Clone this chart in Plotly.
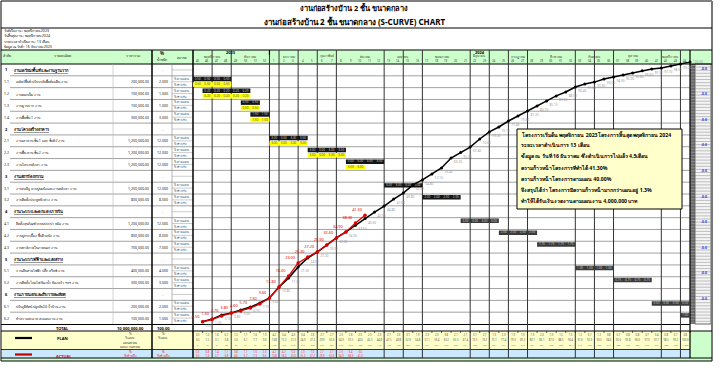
import plotly.graph_objects as go

W, H = 720, 366
FONT = "Noto Sans, DejaVu Sans, Liberation Sans, sans-serif"

# ---------------- data ----------------
title_main = "งานก่อสร้างบ้าน 2 ชั้น ขนาดกลาง"
title_sub = "งานก่อสร้างบ้าน 2 ชั้น ขนาดกลาง (S-CURVE) CHART"
info_lines = ["วันที่เริ่มงาน : พฤศจิกายน 2023", "วันสิ้นสุดงาน : พฤศจิกายน 2024",
              "ระยะเวลาดำเนินงาน : 13 เดือน", "ข้อมูล ณ วันที่ : 16 ธันวาคม 2023"]

years = ["2023", "2024"]
year_months = [2, 11]
months = ["พฤศจิกายน", "ธันวาคม", "มกราคม", "กุมภาพันธ์", "มีนาคม", "เมษายน", "พฤษภาคม",
          "มิถุนายน", "กรกฎาคม", "สิงหาคม", "กันยายน", "ตุลาคม", "พฤศจิกายน"]
week_nums = [45, 46, 47, 48, 49, 50, 51, 52, 1, 2, 3, 4, 5, 6, 7, 8, 9, 10, 11, 12, 13, 14,
             15, 16, 17, 18, 19, 20, 21, 22, 23, 24, 25, 26, 27, 28, 29, 30, 31, 32, 33, 34,
             35, 36, 37, 38, 39, 40, 41, 42, 43, 44]

row_codes = ["1", "1.1", "1.2", "1.3", "1.4", "2", "2.1", "2.2", "2.3", "3", "3.1", "3.2",
             "4", "4.1", "4.2", "4.3", "5", "5.1", "5.2", "6", "6.1", "6.2"]
row_head = [True, False, False, False, False, True, False, False, False, True, False, False,
            True, False, False, False, True, False, False, True, False, False]
row_names = ["งานเตรียมพื้นที่และงานฐานราก",
             "เคลียร์พื้นที่ ปรับระดับพื้นที่ถมดิน งาน", "งานตอกเข็ม งาน", "งานฐานราก งาน", "งานพื้นชั้น 1 งาน",
             "งานโครงสร้างอาคาร",
             "งานเสาคาน ชั้น 1 และ ชั้นที่ 2 งาน", "งานพื้น คาน ชั้น 2 งาน", "งานโครงหลังคา งาน",
             "งานสถาปัตยกรรม",
             "งานก่ออิฐ ฉาบปูนผนังและงานหลังคา งาน", "งานติดตั้งประตูหน้าต่าง งาน",
             "งานระบบและตกแต่งภายใน",
             "ติดตั้งสุขภัณฑ์ระบบประปา หม้อ งาน", "งานปูกระเบื้อง พื้นผิวผนัง งาน", "งานทาสีภายในภายนอก งาน",
             "งานระบบไฟฟ้าและแสงสว่าง",
             "งานเดินสายไฟฟ้า ปลั๊ก สวิตช์ งาน", "งานติดตั้งโคมไฟ ห้องน้ำ ห้องครัว ฯลฯ งาน",
             "งานภายนอกและเก็บรายละเอียด",
             "ปรับภูมิทัศน์ ปลูกต้นไม้ รั้วบ้าน งาน", "ทำความสะอาด ส่งมอบงาน งาน"]
row_price = [None, 200000, 100000, 100000, 300000, None, 1200000, 1200000, 1200000, None,
             1200000, 800000, None, 1200000, 800000, 700000, None, 400000, 300000, None,
             200000, 100000]
row_weight = [None, 2.0, 1.0, 1.0, 3.0, None, 12.0, 12.0, 12.0, None, 12.0, 8.0, None,
              12.0, 8.0, 7.0, None, 4.0, 3.0, None, 2.0, 1.0]
plan_start = [None, 0, 1, 5, 6, None, 8, 12, 16, None, 20, 24, None, 28, 32, 36, None, 40, 44,
              None, 48, 51]
plan_len = [None, 4, 5, 2, 2, None, 4, 4, 4, None, 4, 4, None, 4, 4, 4, None, 4, 4, None, 4, 1]
act_start = [None, 0, 1, 5, 6, None, 8, 12, 16, None, None, None, None, None, None, None, None,
             None, None, None, None, None]
act_len = [None, 4, 5, 2, 2, None, 4, 4, 2, None, None, None, None, None, None, None, None,
           None, None, None, None, None]

plan_cum = [0.5, 1.5, 3.1, 3.8, 5.0, 6.1, 7.7, 9.6, 13.8, 17.2,
            21.5, 24.9, 27.2, 29.9, 32.6, 34.9, 37.5, 40.0, 42.5, 44.8,
            47.5, 49.8, 52.9, 54.8, 57.1, 59.4, 63.2, 65.3, 67.4, 70.5,
            73.2, 75.1, 77.4, 79.3, 81.2, 83.1, 85.1, 87.0, 88.5, 90.4,
            91.6, 92.3, 93.5, 94.3, 95.0, 95.8, 96.6, 97.3, 97.7, 98.5,
            99.2, 100.0]
act_cum = [0.5, 1.3, 2.7, 3.8, 4.6, 5.7, 7.3, 9.6, 13.8, 18.0, 23.0, 25.3, 27.2, 29.9,
           32.6, 34.9, 38.3, 41.3]
week_index = list(range(1, 53))

total_price = "10,000,000.00"
total_weight = "100.00"

note_lines = ["โครงการเริ่มต้น พฤศจิกายน 2023โครงการสิ้นสุด พฤศจิกายน 2024",
              "ระยะเวลาดำเนินการ 13 เดือน",
              "ข้อมูล ณ วันที่ 16 ธันวาคม ซึ่งดำเนินการไปแล้ว 4.5เดือน",
              "ความก้าวหน้าโครงการที่ทำได้ 41.30%",
              "ความก้าวหน้าโครงการตามแผน 40.00%",
              "จึงสรุปได้ว่า โครงการมีความก้าวหน้ามากกว่าแผนอยู่ 1.3%",
              "ทำให้ได้รับเงินงวดงานตามแผนงาน 4,000,000 บาท"]

# ---------------- geometry helpers ----------------
X0, X1 = 193, 690          # timeline pixel extent
ROW_TOP, ROW_BOT = 64, 324  # body rows
NROW = len(row_codes)
RH = (ROW_BOT - ROW_TOP) / NROW
WPX = (X1 - X0) / 52


def px(x):
    return x / W


def py(y):
    return 1 - y / H


def wx(w):
    return X0 + w * WPX


shapes = []
annos = []


def line(x0, y0, x1, y1, color="#000", width=1, layer="below"):
    shapes.append(dict(type="line", xref="paper", yref="paper", x0=px(x0), x1=px(x1),
                       y0=py(y0), y1=py(y1), line=dict(color=color, width=width), layer=layer))


def rect(x0, y0, x1, y1, fill, lc=None, lw=0, layer="below"):
    shapes.append(dict(type="rect", xref="paper", yref="paper", x0=px(x0), x1=px(x1),
                       y0=py(y0), y1=py(y1), fillcolor=fill,
                       line=dict(color=lc or fill, width=lw), layer=layer))


def txt(x, y, s, size=4, color="#222", anchor="left", bold=False):
    if bold:
        s = "<b>" + s + "</b>"
    annos.append(dict(x=px(x), y=py(y), xref="paper", yref="paper", text=s, showarrow=False,
                      xanchor=anchor, yanchor="middle", borderpad=0,
                      font=dict(size=size, color=color, family=FONT)))


# ---------------- background blocks ----------------
rect(2, 50, 711, 64, "#ccffcc")                  # header
rect(2, 331, 690, 349.5, "#ffffcc")              # plan row
rect(2, 349.5, 690, 358, "#cce8ff")              # actual row
rect(690, 331, 711, 358, "#ccffcc")
rect(2, 358, 711, 361, "#ccffcc")
rect(690, 64, 695, 324, "#6a6a6a")               # right side strip
rect(695, 64, 711, 324, "#f4f4f4", "#444", 0.8)
yy = 64
while yy < 324:
    line(695, yy, 711, yy, "#9a9a9a", 0.6)
    line(690, yy + 1.5, 695, yy + 1.5, "#b0b0b0", 0.5)
    yy += 3.1

# frame and main lines
line(1, 1, 712, 1, "#000", 1)
line(1, 1, 1, 361, "#000", 1)
line(712, 1, 712, 361, "#777", 2)
line(1, 28, 712, 28, "#000", 1)
line(1, 50, 712, 50, "#000", 1)
line(1, 64, 712, 64, "#000", 1)
line(1, 361, 712, 361, "#000", 1)
line(1, 324.5, 690, 324.5, "#000", 1)
line(1, 331, 712, 331, "#000", 1)
line(1, 349.5, 690, 349.5, "#000", 0.8)
line(1, 358, 712, 358, "#000", 1)

# row separators
for i in range(1, NROW):
    y = ROW_TOP + i * RH
    line(10, y, 690, y, "#8a8a8a", 0.8)
    line(172, y - RH / 2, 193, y - RH / 2, "#aaa", 0.6)
line(172, ROW_BOT - RH / 2, 193, ROW_BOT - RH / 2, "#aaa", 0.6)

# vertical table lines
line(152, 50, 152, 358, "#000", 1.5)
line(193, 50, 193, 358, "#000", 1.5)
line(690, 50, 690, 358, "#000", 1.2)
line(113, 64, 113, 324, "#bbb", 0.6)
line(172, 64, 172, 324, "#888", 0.6)
grid_weeks = [2, 4, 8, 9, 11, 13, 15, 20, 22, 24, 29, 31, 33, 35, 40, 42, 44, 49, 51]
for w in grid_weeks:
    line(wx(w), 50, wx(w), 358, "#333", 1)
line(wx(8), 50, wx(8), 55, "#000", 1.2)
for k in range(53):
    line(wx(k), 331, wx(k), 333, "#000", 0.6)

# ---------------- titles & info ----------------
txt(354, 7, title_main, 7.4, "#000", "center", True)
txt(355, 22, title_sub, 8, "#000", "center", True)
for k, s in enumerate(info_lines):
    txt(3, 31 + k * 5.2, s, 3.6, "#222")

# header texts
txt(7, 56, "ลำดับ", 3.5, "#222", "center")
txt(63, 56, "รายละเอียด", 3.5, "#222", "center")
txt(133, 56, "ราคารวม", 3.5, "#222", "center")
txt(162, 53, "%", 4.5, "#222", "center", True)
txt(162, 59, "น้ำหนัก", 3.5, "#222", "center")
txt(182, 57, "สถานะ", 3.5, "#222", "center")
m0 = 0
for ylab, nm in zip(years, year_months):
    txt((wx(m0 * 4) + wx((m0 + nm) * 4)) / 2, 52.5, ylab, 4, "#000", "center", True)
    m0 += nm
for m, name in enumerate(months):
    txt((wx(m * 4) + wx(m * 4 + 4)) / 2, 56.5, name, 3.2, "#333", "center")
for k, wn in enumerate(week_nums):
    txt(wx(k + 0.5), 61, str(wn), 2.8, "#333", "center")

# table body texts
for i in range(NROW):
    ytop = ROW_TOP + i * RH
    yc = ytop + RH / 2
    if row_head[i]:
        txt(6, yc, row_codes[i], 4, "#000", "center", True)
        txt(13, yc, "<span style='text-decoration:underline'>" + row_names[i] + "</span>",
            4, "#000", "left", True)
        txt(163, yc, "-", 4, "#444", "center")
    else:
        txt(6, yc, row_codes[i], 3.5, "#222", "center")
        txt(15, yc, row_names[i], 3.5, "#222", "left")
        txt(150, yc, f"{row_price[i]:,.2f}", 3.5, "#222", "right")
        txt(169, yc, f"{row_weight[i]:.3f}", 3.5, "#222", "right")
        txt(173, ytop + RH * 0.25, "% ตามแผน", 2.8, "#333", "left")
        txt(173, ytop + RH * 0.75, "% ทำจริง", 2.8, "#333", "left")

# right column blue labels
for k in range(10):
    txt(704, 68 + k * 25.6, "-0.0", 3.5, "#2233ee", "center", True)

# bottom rows
txt(62, 328, "TOTAL", 4, "#000", "center", True)
txt(130, 328, total_price, 4, "#000", "center", True)
txt(163, 328, total_weight, 4, "#000", "center", True)
line(15, 338, 32, 338, "#000", 2.2)
txt(62, 338, "PLAN", 4, "#000", "center", True)
txt(130, 333.5, "%", 3.2, "#333", "center")
txt(130, 338, "% แผน", 3.2, "#333", "center")
txt(130, 342.5, "แผนสะสม", 3.2, "#333", "center")
txt(130, 346.5, "แผนงานสะสม", 3.2, "#333", "center")
txt(163, 333.5, "%", 3.2, "#333", "center")
txt(163, 338, "% แผน", 3.2, "#333", "center")
line(15, 354.5, 32, 354.5, "#c00000", 2.2)
txt(64, 356, "ACTUAL", 4, "#e00000", "center", True)
txt(130, 352, "%", 3.2, "#e00000", "center")
txt(130, 356, "% ทำจริง", 3.2, "#e00000", "center")
txt(163, 352, "%", 3.2, "#e00000", "center")
txt(163, 356, "% ทำจริง", 3.2, "#e00000", "center")

# note box
rect(517, 129, 682, 209, "#ffffcc", "#000", 1, layer="above")
for k, s in enumerate(note_lines):
    txt(520, 134 + k * 11.2, s, 5.2, "#000", "left", True)

# ---------------- traces ----------------
fig = go.Figure()

dark_rows = set(range(0, 12))
bar_y, bar_base, bar_len, bar_col = [], [], [], []
lab_x, lab_y, lab_t = [], [], []
ybar_y, ybar_base, ybar_len = [], [], []
ylab_x, ylab_y, ylab_t = [], [], []
for i in range(NROW):
    if row_head[i]:
        continue
    per = row_weight[i] / plan_len[i]
    bar_y.append(i + 0.27)
    bar_base.append(plan_start[i])
    bar_len.append(plan_len[i])
    bar_col.append("#151515" if i in dark_rows else "#3b3b3b")
    for k in range(plan_len[i]):
        lab_x.append(plan_start[i] + k + 0.5)
        lab_y.append(i + 0.27)
        lab_t.append(f"{per:.2f}")
    if act_start[i] is not None:
        ybar_y.append(i + 0.73)
        ybar_base.append(act_start[i])
        ybar_len.append(act_len[i])
        for k in range(act_len[i]):
            ylab_x.append(act_start[i] + k + 0.5)
            ylab_y.append(i + 0.73)
            ylab_t.append(f"{per:.2f}")

fig.add_trace(go.Bar(y=bar_y, x=bar_len, base=bar_base, orientation="h", width=0.38,
                     marker=dict(color=bar_col, line=dict(width=0)), xaxis="x", yaxis="y",
                     hoverinfo="skip"))
fig.add_trace(go.Bar(y=ybar_y, x=ybar_len, base=ybar_base, orientation="h", width=0.38,
                     marker=dict(color="#ffff00", line=dict(width=0)), xaxis="x", yaxis="y",
                     hoverinfo="skip"))
fig.add_trace(go.Scatter(x=lab_x, y=lab_y, mode="text", text=lab_t,
                         textfont=dict(size=3, color="#c8c8c8", family=FONT),
                         xaxis="x", yaxis="y", hoverinfo="skip"))
fig.add_trace(go.Scatter(x=ylab_x, y=ylab_y, mode="text", text=ylab_t,
                         textfont=dict(size=3, color="#555", family=FONT),
                         xaxis="x", yaxis="y", hoverinfo="skip"))

# S-curves
plan_pos = ["bottom right"] * (len(plan_cum) - 1) + ["middle right"]
fig.add_trace(go.Scatter(x=week_index, y=plan_cum, mode="lines+markers+text",
                         line=dict(color="#000", width=1.5), marker=dict(size=3, color="#000"),
                         text=[f"{v:.2f}" for v in plan_cum], textposition=plan_pos,
                         textfont=dict(size=3.2, color="#9a9a9a", family=FONT),
                         cliponaxis=False, xaxis="x", yaxis="y2", hoverinfo="skip"))
fig.add_trace(go.Scatter(x=week_index[:len(act_cum)], y=act_cum, mode="lines+markers+text",
                         line=dict(color="#e00000", width=1.3), marker=dict(size=3.5, color="#e00000"),
                         text=[f"{v:.2f}" for v in act_cum], textposition="top left",
                         textfont=dict(size=3.8, color="#e00000", family=FONT),
                         cliponaxis=False, xaxis="x", yaxis="y2", hoverinfo="skip"))

# bottom per-week rows
plan_week = [plan_cum[0]] + [round(plan_cum[k] - plan_cum[k - 1], 2) for k in range(1, 52)]
bx = [k + 0.5 for k in range(52)]
fig.add_trace(go.Scatter(x=bx, y=[335] * 52, mode="text", text=[f"{v:.1f}" for v in plan_week],
                         textfont=dict(size=2.6, color="#555", family=FONT), xaxis="x", yaxis="y3",
                         hoverinfo="skip"))
fig.add_trace(go.Scatter(x=bx, y=[340] * 52, mode="text", text=[f"{v:.1f}" for v in plan_cum],
                         textfont=dict(size=2.6, color="#555", family=FONT), xaxis="x", yaxis="y3",
                         hoverinfo="skip"))
fig.add_trace(go.Scatter(x=bx, y=[345] * 52, mode="text",
                         text=[f"{v * 10:,.0f}" for v in plan_cum],
                         textfont=dict(size=2.4, color="#777", family=FONT), xaxis="x", yaxis="y3",
                         hoverinfo="skip"))
act_week = [act_cum[0]] + [round(act_cum[k] - act_cum[k - 1], 2) for k in range(1, len(act_cum))]
ax_ = bx[:len(act_cum)]
fig.add_trace(go.Scatter(x=ax_, y=[352.5] * len(act_cum), mode="text",
                         text=[f"{v:.1f}" for v in act_week],
                         textfont=dict(size=2.6, color="#ff3030", family=FONT), xaxis="x", yaxis="y3",
                         hoverinfo="skip"))
fig.add_trace(go.Scatter(x=ax_, y=[356] * len(act_cum), mode="text",
                         text=[f"{v:.1f}" for v in act_cum],
                         textfont=dict(size=2.6, color="#ff3030", family=FONT), xaxis="x", yaxis="y3",
                         hoverinfo="skip"))

ax_common = dict(visible=False, showgrid=False, zeroline=False, fixedrange=True)
fig.update_layout(
    width=W, height=H, margin=dict(l=0, r=0, t=0, b=0), autosize=False,
    paper_bgcolor="white", plot_bgcolor="rgba(0,0,0,0)", showlegend=False,
    barmode="overlay", font=dict(family=FONT),
    xaxis=dict(domain=[px(X0), px(X1)], range=[0, 52], anchor="y", **ax_common),
    yaxis=dict(domain=[py(ROW_BOT), py(ROW_TOP)], range=[NROW, 0], anchor="x", **ax_common),
    yaxis2=dict(domain=[py(323), py(62)], range=[0, 100], anchor="x", **ax_common),
    yaxis3=dict(domain=[py(358), py(331)], range=[358, 331], anchor="x", **ax_common),
    shapes=shapes, annotations=annos,
)
fig.write_html("out.html", config={"displayModeBar": False},
               post_script="document.body.style.margin='0';document.body.style.overflow='hidden';")
